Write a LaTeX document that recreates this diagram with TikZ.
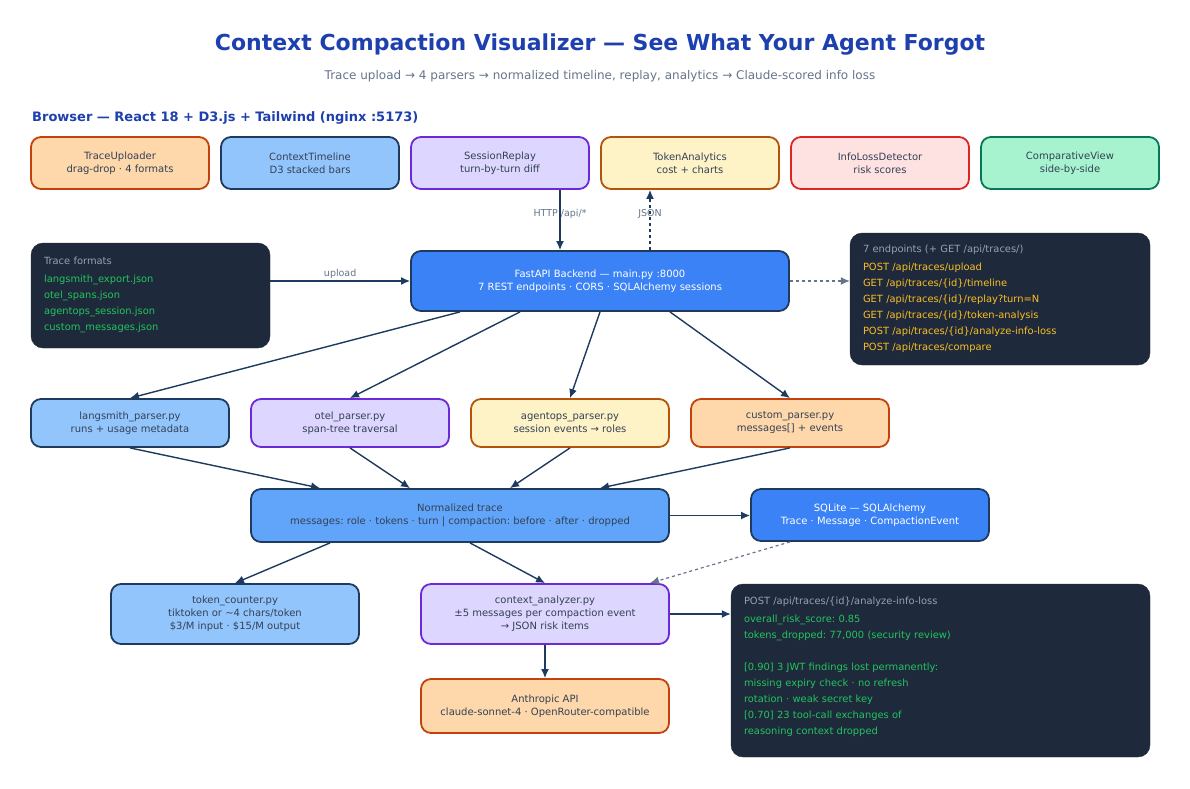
\documentclass[tikz,border=0pt]{standalone}
\usepackage{fontspec}
\setmainfont{DejaVu Sans}
\usetikzlibrary{arrows.meta, positioning}
\definecolor{navy}{HTML}{1E3A5F}
\definecolor{slate}{HTML}{334155}
\definecolor{titleblue}{HTML}{1E40AF}
\definecolor{subgray}{HTML}{64748B}
\definecolor{darkbg}{HTML}{1E293B}
\definecolor{panelgray}{HTML}{94A3B8}
\definecolor{codegreen}{HTML}{22C55E}
\definecolor{codeamber}{HTML}{FBBF24}
\definecolor{orangefill}{HTML}{FED7AA}
\definecolor{orangeline}{HTML}{C2410C}
\definecolor{skyfill}{HTML}{93C5FD}
\definecolor{skyline}{HTML}{1E3A5F}
\definecolor{violetfill}{HTML}{DDD6FE}
\definecolor{violetline}{HTML}{6D28D9}
\definecolor{amberfill}{HTML}{FEF3C7}
\definecolor{amberline}{HTML}{B45309}
\definecolor{rosefill}{HTML}{FEE2E2}
\definecolor{roseline}{HTML}{DC2626}
\definecolor{mintfill}{HTML}{A7F3D0}
\definecolor{mintline}{HTML}{047857}
\definecolor{midfill}{HTML}{60A5FA}
\definecolor{midline}{HTML}{1E3A5F}
\definecolor{deepfill}{HTML}{3B82F6}
\definecolor{deepline}{HTML}{1E3A5F}

\begin{document}
\frenchspacing
\begin{tikzpicture}[
  x=1pt, y=-1pt,
  every node/.style={font=\fontsize{10}{13}\selectfont, text=slate},
  card/.style={rectangle, rounded corners=10pt, line width=1.8pt, fill=#1fill, draw=#1line,
               align=center, minimum width=178pt, minimum height=52pt, inner sep=0pt},
  parser/.style={card=#1, minimum width=198pt, minimum height=48pt},
  wide/.style={card=#1, minimum width=248pt, minimum height=60pt},
  panel/.style={rectangle, rounded corners=12pt, fill=darkbg, draw=darkbg, align=left,
                inner xsep=13pt, inner ysep=0pt, text=panelgray, font=\fontsize{9.9}{16}\selectfont},
  arr/.style={-{Latex[length=9pt, width=8pt]}, line width=1.4pt, navy},
  darr/.style={arr, dashed},
  garr/.style={-{Latex[length=9pt, width=8pt]}, line width=1.2pt, subgray, dashed},
  lbl/.style={font=\fontsize{9.5}{11}\selectfont, text=subgray}
]
\useasboundingbox (0,0) rectangle (1190,788);

% heading
\node[font=\fontsize{22}{26}\selectfont\bfseries, text=titleblue] (title) at (600,45)
  {Context Compaction Visualizer — See What Your Agent Forgot};
\node[font=\fontsize{12}{14}\selectfont, text=subgray] (subtitle) at (600,76)
  {Trace upload → 4 parsers → normalized timeline, replay, analytics → Claude-scored info loss};
\node[anchor=west, font=\fontsize{13}{15}\selectfont\bfseries, text=titleblue, inner sep=0pt] (browser) at (32,118)
  {Browser — React 18 + D3.js + Tailwind (nginx :5173)};

% frontend components
\node[card=orange] (uploader) at (120,163) {TraceUploader\\drag-drop · 4 formats};
\node[card=sky]    (timeline) at (310,163) {ContextTimeline\\D3 stacked bars};
\node[card=violet] (replay)   at (500,163) {SessionReplay\\turn-by-turn diff};
\node[card=amber]  (tokens)   at (690,163) {TokenAnalytics\\cost + charts};
\node[card=rose]   (infoloss) at (880,163) {InfoLossDetector\\risk scores};
\node[card=mint]   (compare)  at (1070,163) {ComparativeView\\side-by-side};

% backend
\node[card=deep, text=white, minimum width=378pt, minimum height=60pt] (api) at (600,281)
  {FastAPI Backend — main.py :8000\\7 REST endpoints · CORS · SQLAlchemy sessions};

\node[panel, text width=213pt, minimum height=105pt] (formats) at (150.5,295.5)
  {Trace formats\\[2pt]
   \textcolor{codegreen}{langsmith\_export.json}\\
   \textcolor{codegreen}{otel\_spans.json}\\
   \textcolor{codegreen}{agentops\_session.json}\\
   \textcolor{codegreen}{custom\_messages.json}\rule[-4pt]{0pt}{4pt}};

\node[panel, text width=274pt, minimum height=132pt] (endpoints) at (1000,299)
  {7 endpoints (+ GET /api/traces/)\\[2pt]
   \textcolor{codeamber}{POST /api/traces/upload}\\
   \textcolor{codeamber}{GET /api/traces/\{id\}/timeline}\\
   \textcolor{codeamber}{GET /api/traces/\{id\}/replay?turn=N}\\
   \textcolor{codeamber}{GET /api/traces/\{id\}/token-analysis}\\
   \textcolor{codeamber}{POST /api/traces/\{id\}/analyze-info-loss}\\
   \textcolor{codeamber}{POST /api/traces/compare}};

% parsers
\node[parser=sky]    (langsmith) at (130,423) {langsmith\_parser.py\\runs + usage metadata};
\node[parser=violet] (otel)      at (350,423) {otel\_parser.py\\span-tree traversal};
\node[parser=amber]  (agentops)  at (570,423) {agentops\_parser.py\\session events → roles};
\node[parser=orange] (custom)    at (790,423) {custom\_parser.py\\messages[] + events};

\node[card=mid, minimum width=418pt, minimum height=53pt] (normal) at (460,515.5)
  {Normalized trace\\messages: role · tokens · turn | compaction: before · after · dropped};
\node[card=deep, text=white, minimum width=238pt, minimum height=52pt] (sqlite) at (870,515)
  {SQLite — SQLAlchemy\\Trace · Message · CompactionEvent};

% analysis
\node[wide=sky]    (counter)  at (235,614) {token\_counter.py\\tiktoken or \textasciitilde4 chars/token\\\$3/M input · \$15/M output};
\node[wide=violet] (analyzer) at (545,614) {context\_analyzer.py\\±5 messages per compaction event\\→ JSON risk items};
\node[wide=orange, minimum height=54pt] (anthropic) at (545,706) {Anthropic API\\claude-sonnet-4 · OpenRouter-compatible};

\node[panel, text width=393pt, minimum height=173pt] (result) at (940.5,670.5)
  {POST /api/traces/\{id\}/analyze-info-loss\\[2pt]
   \textcolor{codegreen}{overall\_risk\_score: 0.85}\\
   \textcolor{codegreen}{tokens\_dropped: 77,000 (security review)}\\[16pt]
   \textcolor{codegreen}{[0.90] 3 JWT findings lost permanently:}\\
   \textcolor{codegreen}{missing expiry check · no refresh}\\
   \textcolor{codegreen}{rotation · weak secret key}\\
   \textcolor{codegreen}{[0.70] 23 tool-call exchanges of}\\
   \textcolor{codegreen}{reasoning context dropped}\rule[-10pt]{0pt}{10pt}};

% connectors
\draw[arr] ([xshift=60pt]replay.south) -- ([xshift=-40pt]api.north)
  node[pos=0.4, lbl]{HTTP /api/*};
\draw[darr] ([xshift=50pt]api.north) -- ([xshift=-40pt]tokens.south)
  node[pos=0.6, lbl]{JSON};
\draw[arr] (formats.east |- api.west) -- (api.west)
  node[midway, above, lbl, inner sep=2pt]{upload};
\draw[garr] (api.east) -- (endpoints.west |- api.east);

\draw[arr] ([xshift=-140pt]api.south) -- (langsmith.north);
\draw[arr] ([xshift=-80pt]api.south) -- (otel.north);
\draw[arr] (api.south) -- (agentops.north);
\draw[arr] ([xshift=70pt]api.south) -- (custom.north);

\draw[arr] (langsmith.south) -- ([xshift=-140pt]normal.north);
\draw[arr] (otel.south) -- ([xshift=-50pt]normal.north);
\draw[arr] (agentops.south) -- ([xshift=50pt]normal.north);
\draw[arr] (custom.south) -- ([xshift=140pt]normal.north);

\draw[arr] (normal.east) -- (sqlite.west |- normal.east);
\draw[arr] ([xshift=-130pt]normal.south) -- (counter.north);
\draw[arr] ([xshift=10pt]normal.south) -- (analyzer.north);
\draw[garr] ([xshift=-80pt]sqlite.south) -- ([xshift=105pt]analyzer.north);
\draw[arr] (analyzer.south) -- (anthropic.north);
\draw[arr] (analyzer.east) -- (result.west |- analyzer.east);
\end{tikzpicture}
\end{document}
